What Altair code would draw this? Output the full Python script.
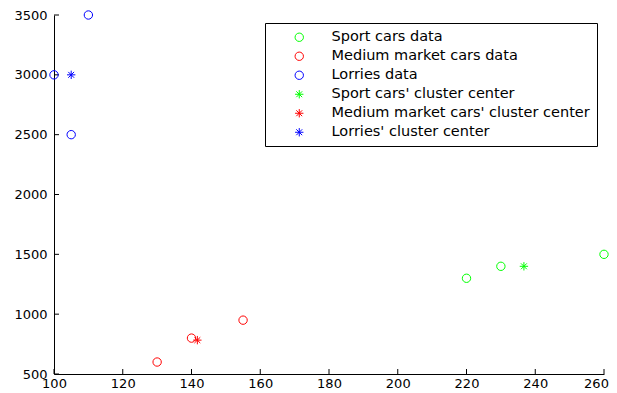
import altair as alt
import pandas as pd

series_names = [
    "Sport cars data",
    "Medium market cars data",
    "Lorries data",
    "Sport cars' cluster center",
    "Medium market cars' cluster center",
    "Lorries' cluster center",
]
series_colors = ["#00ff00", "#ff0000", "#0000ff", "#00ff00", "#ff0000", "#0000ff"]

sport_x = [220, 230, 260]
sport_y = [1300, 1400, 1500]
medium_x = [130, 140, 155]
medium_y = [600, 800, 950]
lorry_x = [100, 105, 110]
lorry_y = [3000, 2500, 3500]
center_x = [236.7, 141.7, 105.0]
center_y = [1400, 783, 3000]

x_ticks = [100, 120, 140, 160, 180, 200, 220, 240, 260]
y_ticks = [500, 1000, 1500, 2000, 2500, 3000, 3500]

ASTERISK = "M-1,0L1,0M0,-1L0,1M-0.7,-0.7L0.7,0.7M-0.7,0.7L0.7,-0.7"
series_shapes = ["circle", "circle", "circle", ASTERISK, ASTERISK, ASTERISK]

rows = []
for xs, ys, name in [(sport_x, sport_y, series_names[0]),
                     (medium_x, medium_y, series_names[1]),
                     (lorry_x, lorry_y, series_names[2])]:
    for a, b in zip(xs, ys):
        rows.append({"x": a, "y": b, "series": name})
for i in range(3):
    rows.append({"x": center_x[i], "y": center_y[i], "series": series_names[3 + i]})
df = pd.DataFrame(rows)

W, H = 550, 359
FONT = "DejaVu Sans"

xscale = alt.Scale(domain=[100, 260], nice=False, zero=False)
yscale = alt.Scale(domain=[500, 3500], nice=False, zero=False)

points = alt.Chart(df).mark_point(filled=False, size=70, strokeWidth=1, opacity=1).encode(
    x=alt.X("x:Q", scale=xscale,
            axis=alt.Axis(values=x_ticks, title=None, grid=False, tickSize=0, format="d",
                          labelPadding=3, labelFont=FONT, labelFontSize=13,
                          labelOffset={"condition": {"test": "datum.value == 260", "value": -8},
                                       "value": 0},
                          labelColor="black", domainColor="black", labelFlush=False)),
    y=alt.Y("y:Q", scale=yscale,
            axis=alt.Axis(values=y_ticks, title=None, grid=False, tickSize=0, format="d",
                          labelPadding=7, labelFont=FONT, labelFontSize=13,
                          labelColor="black", domainColor="black", labelFlush=False)),
    color=alt.Color("series:N", title=None,
                    scale=alt.Scale(domain=series_names, range=series_colors),
                    legend=alt.Legend(orient="none", legendX=211, legendY=8)),
    shape=alt.Shape("series:N", title=None,
                    scale=alt.Scale(domain=series_names, range=series_shapes)),
)

ydf = pd.DataFrame({"v": y_ticks})
xdf = pd.DataFrame({"v": x_ticks})

yt = alt.Chart(ydf).mark_rule(color="black", strokeWidth=1).encode(
    y=alt.Y("v:Q", scale=yscale), x=alt.value(0), x2=alt.value(5))
xt = alt.Chart(xdf).mark_rule(color="black", strokeWidth=1).encode(
    x=alt.X("v:Q", scale=xscale), y=alt.value(H), y2=alt.value(H - 5))

chart = alt.layer(yt, xt, points).properties(
    width=W, height=H,
    autosize=alt.AutoSizeParams(type="none"),
    padding={"left": 46, "top": 7, "right": 5, "bottom": 16},
    background="white",
).configure_view(stroke=None).configure_legend(
    strokeColor="black", fillColor="white", padding=7, rowPadding=4,
    symbolOffset=20, labelOffset=25, labelFont=FONT, labelFontSize=14.5,
    labelColor="black", symbolSize=70, symbolStrokeWidth=1,
    labelLimit=400, cornerRadius=0,
)

chart.save("out.html", embed_options={"renderer": "svg", "actions": False})
